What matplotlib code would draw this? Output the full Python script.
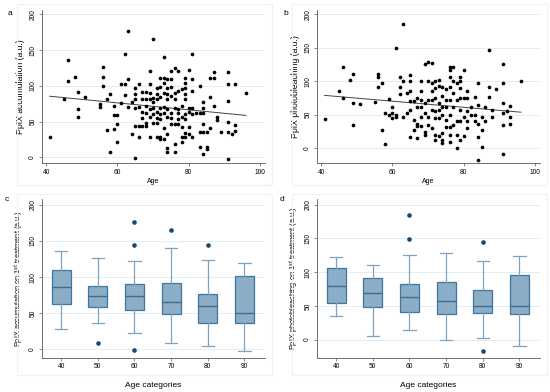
import numpy as np
import matplotlib.pyplot as plt
from matplotlib.patches import Rectangle

plt.rcParams['font.family'] = ['Liberation Sans', 'DejaVu Sans']

# Panel a: age vs PpIX accumulation
age_a = [41, 45, 46, 46, 48, 49, 49, 49, 51, 55, 55, 56, 56, 56, 57, 57, 58, 58, 59, 59,
         59, 60, 60, 60, 61, 61, 62, 62, 62, 63, 63, 63, 64, 64, 65, 65, 65, 65, 65, 65,
         66, 66, 66, 66, 67, 67, 67, 67, 67, 68, 68, 68, 68, 68, 68, 69, 69, 69, 69, 69,
         69, 69, 70, 70, 70, 70, 70, 70, 71, 71, 71, 71, 71, 71, 71, 72, 72, 72, 72, 72,
         72, 72, 72, 73, 73, 73, 73, 73, 73, 73, 73, 74, 74, 74, 74, 74, 74, 74, 74, 74,
         75, 75, 75, 75, 75, 75, 75, 76, 76, 76, 76, 76, 76, 76, 77, 77, 77, 77, 77, 77,
         78, 78, 78, 78, 78, 78, 79, 79, 79, 79, 79, 79, 79, 79, 79, 80, 80, 80, 80, 80,
         81, 81, 81, 81, 81, 81, 82, 83, 83, 83, 83, 84, 84, 84, 84, 84, 84, 85, 85, 85,
         86, 86, 86, 87, 87, 87, 88, 88, 89, 91, 91, 91, 91, 91, 91, 92, 93, 93, 93, 96]
acc_a = [28, 81, 136, 107, 112, 92, 68, 57, 84, 74, 70, 126, 113, 100, 82, 38, 88, 8, 72, 59,
         39, 59, 47, 22, 102, 76, 145, 102, 87, 177, 109, 71, 78, 33, -1, 97, 88, 82, 69, 44,
         103, 71, 44, 28, 92, 81, 63, 55, 44, 91, 82, 72, 62, 44, 48, 103, 121, 90, 81, 67,
         57, 29, 165, 83, 78, 60, 48, 69, 97, 88, 81, 64, 55, 48, 29, 111, 99, 85, 69, 60,
         53, 28, 26, 141, 111, 104, 90, 71, 62, 41, 25, 109, 97, 89, 81, 67, 57, 32, 13, 8,
         121, 109, 99, 86, 62, 55, 46, 125, 90, 81, 69, 46, 19, 8, 121, 93, 67, 62, 53, 46,
         95, 72, 57, 43, 29, 21, 111, 104, 97, 88, 81, 60, 53, 34, 29, 122, 69, 64, 43, 32,
         145, 109, 93, 69, 60, 29, 62, 100, 62, 36, 15, 69, 77, 62, 46, 35, 4, 36, 15, 12,
         84, 111, 41, 120, 111, 72, 57, 52, 35, 119, 102, 79, 50, 36, -2, 32, 45, 102, 37, 90]

# Panel b: age vs PpIX photobleaching
age_b = [41, 45, 46, 46, 48, 49, 49, 49, 51, 55, 56, 56, 56, 57, 57, 58, 58, 59, 59, 60,
         60, 60, 61, 61, 61, 62, 62, 62, 63, 63, 63, 64, 64, 65, 65, 65, 65, 65, 65, 66,
         66, 66, 67, 67, 67, 67, 67, 68, 68, 68, 68, 68, 68, 69, 69, 69, 69, 69, 70, 70,
         70, 70, 70, 71, 71, 71, 71, 71, 71, 72, 72, 72, 72, 72, 72, 72, 73, 73, 73, 73,
         73, 73, 74, 74, 74, 74, 74, 74, 74, 75, 75, 75, 75, 75, 76, 76, 76, 76, 76, 76,
         76, 76, 76, 77, 77, 77, 77, 77, 78, 78, 78, 78, 78, 79, 79, 79, 79, 79, 79, 79,
         80, 80, 80, 80, 81, 81, 81, 81, 81, 82, 82, 83, 83, 83, 84, 84, 84, 84, 84, 85,
         85, 85, 86, 86, 87, 87, 87, 88, 88, 89, 91, 91, 91, 91, 91, 91, 92, 93, 93, 93, 96]
pb_b = [43, 86, 122, 75, 102, 111, 67, 35, 66, 69, 111, 107, 91, 97, 28, 52, 6, 73, 49, 61,
        52, 45, 149, 50, 47, 106, 91, 81, 186, 100, 46, 82, 52, 110, 100, 85, 71, 57, 17, 70,
        42, 27, 75, 62, 37, 33, 15, 101, 85, 72, 62, 47, 33, 126, 67, 52, 25, 20, 128, 100,
        72, 47, 35, 127, 97, 85, 72, 57, 30, 101, 90, 75, 55, 45, 20, 12, 102, 93, 67, 57,
        45, 18, 91, 78, 62, 50, 23, 12, 8, 88, 72, 62, 42, 32, 122, 117, 107, 91, 72, 50,
        32, 20, 10, 122, 101, 82, 62, 35, 97, 72, 40, 20, 1, 107, 100, 90, 75, 57, 40, 12,
        117, 75, 47, 18, 86, 75, 55, 41, 30, 62, 50, 77, 50, 40, 97, 65, 37, 17, -17, 47,
        28, 2, 62, 40, 146, 92, 77, 47, 57, 88, 126, 97, 68, 52, 35, -9, 55, 63, 47, 37, 100]

# Box plots by age category
age_cats = ['40', '50', '60', '70', '80', '90']

c_lo = [28, 37, 22, 9, 4, -3]
c_q1 = [63, 59, 54, 49, 37, 36]
c_med = [86, 74, 74, 65, 60, 50]
c_q3 = [110, 88, 90, 92, 77, 101]
c_hi = [136, 126, 122, 140, 123, 119]
c_fliers = [[], [9], [177, 145, -1], [165], [145], []]

d_lo = [35, 5, 15, 0, 2, -10]
d_q1 = [54, 49, 41, 38, 39, 38]
d_med = [79, 69, 63, 57, 50, 50]
d_q3 = [106, 92, 83, 86, 73, 96]
d_hi = [122, 110, 126, 128, 117, 124]
d_fliers = [[], [], [185, 149], [], [145, -17], []]

grid_col = '#e4edf2'
spine_col = '#5a5a5a'


def style_axes(ax, ylim):
    for s in ['top', 'right']:
        ax.spines[s].set_visible(False)
    for s in ['left', 'bottom']:
        ax.spines[s].set_color(spine_col)
        ax.spines[s].set_linewidth(0.6)
    ax.set_ylim(*ylim)
    ax.set_yticks([0, 50, 100, 150, 200])
    ax.yaxis.grid(True, color=grid_col, linewidth=0.7)
    ax.set_axisbelow(True)
    ax.tick_params(axis='both', labelsize=4.8, length=2.5, width=0.5,
                   color=spine_col, pad=1.5)
    for lab in ax.get_yticklabels():
        lab.set_rotation(90)
        lab.set_va('center')


def scatter_panel(ax, x, y, ylabel, ylim):
    x = np.array(x)
    y = np.array(y)
    ax.scatter(x, y, s=7, color='black', linewidths=0, zorder=3)
    b, a = np.polyfit(x, y, 1)
    xx = np.array([x.min(), x.max()])
    ax.plot(xx, a + b * xx, color='#444444', linewidth=0.7, zorder=2)
    ax.set_xlim(38.8, 101.2)
    ax.set_xticks([40, 60, 80, 100])
    style_axes(ax, ylim)
    ax.set_xlabel('Age', fontsize=5, labelpad=2)
    ax.set_ylabel(ylabel, fontsize=6.2, labelpad=3)


def box_panel(ax, lo, q1, med, q3, hi, fliers, ylabel, ylim):
    stats = []
    for i in range(len(age_cats)):
        stats.append(dict(whislo=lo[i], q1=q1[i], med=med[i], q3=q3[i],
                          whishi=hi[i], fliers=fliers[i]))
    pos = np.arange(1, len(age_cats) + 1)
    ax.bxp(stats, positions=pos, widths=0.52, capwidths=0.34, patch_artist=True,
           boxprops=dict(facecolor='#8badc5', edgecolor='#3f76a0', linewidth=0.9),
           medianprops=dict(color='#3a6d95', linewidth=1.0),
           whiskerprops=dict(color='#7ea3c0', linewidth=0.9),
           capprops=dict(color='#7ea3c0', linewidth=0.9),
           flierprops=dict(marker='o', markersize=2.3, markerfacecolor='#1a476f',
                           markeredgecolor='#1a476f'))
    ax.set_xlim(0.47, 6.55)
    ax.set_xticks(pos)
    ax.set_xticklabels(age_cats)
    style_axes(ax, ylim)
    ax.set_xlabel('Age categories', fontsize=6, labelpad=8)
    ax.set_ylabel(ylabel, fontsize=5.3, labelpad=3)


fig = plt.figure(figsize=(5.5, 3.92), dpi=100)

# faint graph-region frames
for (x0, y0, w, h) in [(0.031, 0.528, 0.463, 0.462), (0.531, 0.528, 0.463, 0.462),
                       (0.031, 0.043, 0.463, 0.462), (0.531, 0.043, 0.463, 0.462)]:
    fig.patches.append(Rectangle((x0, y0), w, h, transform=fig.transFigure,
                                 fill=False, edgecolor='#eef2f5', linewidth=0.8))

ax_a = fig.add_axes([0.076, 0.584, 0.405, 0.39])
ax_b = fig.add_axes([0.576, 0.584, 0.405, 0.39])
ax_c = fig.add_axes([0.076, 0.087, 0.405, 0.405])
ax_d = fig.add_axes([0.576, 0.087, 0.405, 0.405])

scatter_panel(ax_a, age_a, acc_a, 'PpIX accumulation (a.u.)', (-8, 206))
scatter_panel(ax_b, age_b, pb_b, 'PpIX photobleaching (a.u.)', (-22, 206))
box_panel(ax_c, c_lo, c_q1, c_med, c_q3, c_hi, c_fliers,
          'PpIX accumulation on 1$^{st}$ treatment (a.u.)', (-12, 208))
box_panel(ax_d, d_lo, d_q1, d_med, d_q3, d_hi, d_fliers,
          'PpIX photobleaching on 1$^{st}$ treatment (a.u.)', (-27, 208))

for lab, (x, y) in zip('abcd', [(0.013, 0.965), (0.515, 0.965), (0.008, 0.49), (0.508, 0.49)]):
    fig.text(x, y, lab, fontsize=6, ha='left', va='center')

fig.savefig('out.png', dpi=100)
